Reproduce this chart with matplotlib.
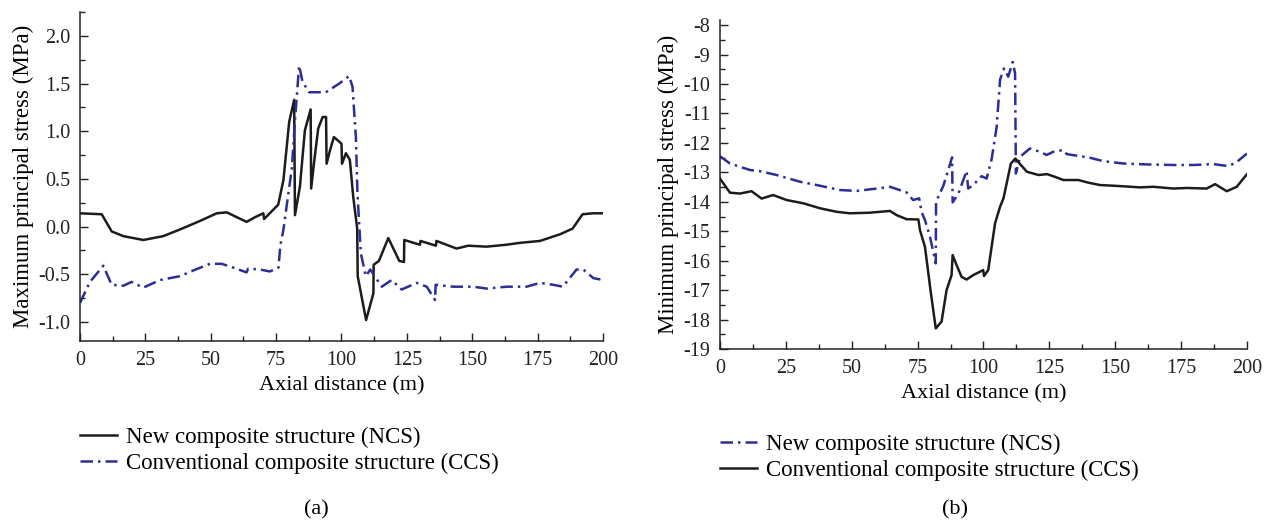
"""
Principal stress along the tunnel axis: NCS vs CCS, two panels (a) and (b).
"""

import matplotlib
matplotlib.use("Agg")
import matplotlib.pyplot as plt
from matplotlib.ticker import MultipleLocator, FormatStrFormatter
from matplotlib.lines import Line2D

# ── Style ─────────────────────────────────────────────────────────────────────
BLACK   = "#1c1c1c"
BLUE    = "#2d2d96"
DASHDOT = (0, (5, 2, 1, 2))
LW      = 1.8
FS_TICK = 14.5
FS_LAB  = 16
FS_LEG  = 16.5

plt.rcParams["font.family"] = ["Liberation Serif", "DejaVu Serif"]
plt.rcParams["axes.unicode_minus"] = False

# ── Data: panel (a) maximum principal stress ──────────────────────────────────
ncs_a_x = [0, 8.3, 12.1, 16.6, 24.2, 31.8, 38.2, 45.9, 52.3, 56.1, 63.7, 67, 70.1,
           70.4, 75.8, 77.8, 80.0, 81.9, 82.2, 84.1, 86.0, 88.2, 88.4, 89.5, 91.1,
           92.8, 94.1, 94.3, 95.6, 97.1, 100.0, 100.2, 101.7, 103.2, 104.5, 106.0,
           106.2, 109.4, 112.2, 112.3, 114.3, 117.9, 122.1, 123.9, 124.0, 130.0,
           130.2, 136.1, 136.3, 144, 148.5, 155.5, 163, 168.3, 175.9, 183.6, 188.4,
           192.2, 196.3, 200]
ncs_a_y = [0.14, 0.13, -0.05, -0.10, -0.14, -0.10, -0.03, 0.06, 0.14, 0.15, 0.05,
           0.10, 0.14, 0.08, 0.23, 0.49, 1.10, 1.33, 0.12, 0.42, 1.01, 1.23, 0.40,
           0.67, 1.03, 1.15, 1.15, 0.66, 0.80, 0.94, 0.87, 0.66, 0.77, 0.70, 0.31,
           -0.02, -0.52, -0.98, -0.70, -0.40, -0.36, -0.12, -0.36, -0.37, -0.14,
           -0.19, -0.15, -0.20, -0.15, -0.23, -0.20, -0.21, -0.19, -0.17, -0.15,
           -0.08, -0.02, 0.13, 0.14, 0.14]

ccs_a_x = [0, 3.8, 8.9, 12.1, 16.6, 19.7, 24.2, 30.6, 38.2, 43.3, 49.7, 54.2, 58.6,
           63.7, 64.3, 68.8, 72.6, 75.9, 76.6, 77.8, 81.0, 82.3, 83.8, 85.1, 87.6,
           94.0, 99.1, 102.9, 104.2, 105.5, 106.1, 107.4, 109.3, 111.0, 115.4,
           119.2, 123, 128.7, 132.6, 135.8, 136.0, 142.8, 150.4, 155.5, 163.2,
           170.8, 175.9, 181, 184.6, 189.9, 192.5, 196.3, 200]
ccs_a_y = [-0.80, -0.58, -0.41, -0.61, -0.62, -0.58, -0.64, -0.56, -0.52, -0.46,
           -0.39, -0.39, -0.43, -0.48, -0.44, -0.45, -0.47, -0.43, -0.20, -0.03,
           0.61, 1.15, 1.69, 1.52, 1.41, 1.41, 1.50, 1.58, 1.47, 0.94, 0.35, -0.28,
           -0.52, -0.45, -0.63, -0.56, -0.66, -0.59, -0.63, -0.77, -0.61, -0.63,
           -0.63, -0.65, -0.63, -0.63, -0.59, -0.61, -0.63, -0.45, -0.45, -0.54,
           -0.56]

# ── Data: panel (b) minimum principal stress ──────────────────────────────────
ncs_b_x = [0, 3.8, 11.4, 15.2, 21.5, 30.4, 36.7, 45.5, 51.9, 59.5, 64.5, 70.8, 73.3,
           75.6, 76.5, 77.8, 79.7, 81.9, 82.0, 84.8, 88.1, 88.3, 90.5, 93.6, 94.2,
           96.1, 99.3, 101.2, 103.1, 105.0, 106.3, 107.8, 109.4, 111.1, 112.0,
           112.3, 113.9, 117.6, 121.4, 124, 126.5, 130.3, 131.6, 136.6, 139.8,
           145.5, 153.1, 161.9, 172.1, 179.7, 187.3, 192.3, 195.4, 200]
ncs_b_y = [-12.45, -12.70, -12.92, -12.96, -13.09, -13.32, -13.43, -13.60, -13.63,
           -13.55, -13.49, -13.68, -13.94, -13.88, -14.34, -14.62, -15.19, -16.09,
           -14.0, -13.45, -12.49, -14.02, -13.72, -12.95, -13.55, -13.43, -13.13,
           -13.21, -12.55, -11.46, -9.85, -9.47, -9.75, -9.25, -9.64, -13.04,
           -12.47, -12.19, -12.30, -12.41, -12.30, -12.24, -12.38, -12.45, -12.49,
           -12.62, -12.70, -12.73, -12.75, -12.75, -12.72, -12.78, -12.70, -12.36]

ccs_b_x = [0, 3.8, 7.6, 12.0, 15.8, 20.2, 25.3, 31.6, 38, 44.3, 49.3, 56.9, 64.5, 67,
           70.8, 75.3, 75.9, 77.8, 79.9, 81.9, 84.1, 86, 87.9, 88.3, 89.8, 91.7,
           93.6, 96.1, 99.9, 100.2, 101.8, 104.4, 106.3, 107.6, 110.4, 112.1, 113.7,
           116.5, 120.9, 124.1, 127.1, 130.3, 136, 139.8, 144.2, 150.6, 159.4,
           164.5, 172.1, 177.2, 184.7, 187.9, 192.3, 196.1, 200]
ccs_b_y = [-13.21, -13.69, -13.72, -13.64, -13.89, -13.77, -13.94, -14.05, -14.22,
           -14.34, -14.39, -14.37, -14.31, -14.45, -14.59, -14.60, -14.96, -15.53,
           -17.0, -18.30, -18.07, -17.0, -16.49, -15.81, -16.15, -16.55, -16.64,
           -16.49, -16.32, -16.52, -16.32, -14.73, -14.17, -13.88, -12.70, -12.53,
           -12.70, -12.98, -13.09, -13.06, -13.15, -13.26, -13.26, -13.35, -13.43,
           -13.46, -13.51, -13.49, -13.55, -13.53, -13.55, -13.40, -13.64, -13.49,
           -13.06]

X_TICK_STEP = 25
NCS_LABEL = "New composite structure (NCS)"
CCS_LABEL = "Conventional composite structure (CCS)"


def style_axes(ax, ymajor, yminor):
    for side in ("top", "right"):
        ax.spines[side].set_visible(False)
    for side in ("left", "bottom"):
        ax.spines[side].set_linewidth(1.1)
        ax.spines[side].set_color("#222222")
    ax.set_xlim(0, 200)
    ax.xaxis.set_major_locator(MultipleLocator(X_TICK_STEP))
    ax.xaxis.set_minor_locator(MultipleLocator(X_TICK_STEP / 2))
    ax.yaxis.set_major_locator(MultipleLocator(ymajor))
    ax.yaxis.set_minor_locator(MultipleLocator(yminor))
    ax.tick_params(which="both", direction="in", top=False, right=False,
                   labelsize=FS_TICK, colors="#222222")
    ax.tick_params(which="major", length=6, width=1.0, pad=7)
    ax.tick_params(which="minor", length=3.5, width=1.0)
    ax.set_xlabel("Axial distance (m)", fontsize=FS_LAB, labelpad=5)


def add_legend(handles, x_px, y_px):
    fig.legend(handles, [NCS_LABEL, CCS_LABEL], loc="upper left",
               bbox_to_anchor=(x_px / 1274, 1 - y_px / 522), frameon=False,
               fontsize=FS_LEG, handlelength=1.6, handletextpad=0.4,
               labelspacing=0.2, borderaxespad=0, borderpad=0)


fig = plt.figure(figsize=(12.74, 5.22), dpi=100)

# ── Panel (a) ─────────────────────────────────────────────────────────────────
ax_a = fig.add_axes([0.0628, 0.3467, 0.4105, 0.630])
ax_a.plot(ncs_a_x, ncs_a_y, color=BLACK, lw=LW)
ax_a.plot(ccs_a_x, ccs_a_y, color=BLUE, lw=LW, linestyle=DASHDOT)
ax_a.set_ylim(-1.2, 2.25)
style_axes(ax_a, 0.5, 0.25)
ax_a.yaxis.set_major_formatter(FormatStrFormatter("%.1f"))
ax_a.set_ylabel("Maximum principal stress (MPa)", fontsize=FS_LAB + 0.5, labelpad=3)

add_legend([Line2D([], [], color=BLACK, lw=LW),
            Line2D([], [], color=BLUE, lw=LW, linestyle=DASHDOT)], 80, 427)
fig.text(316 / 1274, 1 - 510 / 522, "(a)", ha="center", va="center", fontsize=FS_LAB)

# ── Panel (b) ─────────────────────────────────────────────────────────────────
ax_b = fig.add_axes([0.5651, 0.3314, 0.4137, 0.630])
ax_b.plot(ncs_b_x, ncs_b_y, color=BLUE, lw=LW, linestyle=DASHDOT)
ax_b.plot(ccs_b_x, ccs_b_y, color=BLACK, lw=LW)
ax_b.set_ylim(-19, -7.83)
style_axes(ax_b, 1, 0.5)
ax_b.set_ylabel("Minimum principal stress (MPa)", fontsize=FS_LAB + 0.5, labelpad=3)

add_legend([Line2D([], [], color=BLUE, lw=LW, linestyle=DASHDOT),
            Line2D([], [], color=BLACK, lw=LW)], 720, 434)
fig.text(955 / 1274, 1 - 510 / 522, "(b)", ha="center", va="center", fontsize=FS_LAB)

fig.savefig("out.png", dpi=100, facecolor="white")
plt.close(fig)
